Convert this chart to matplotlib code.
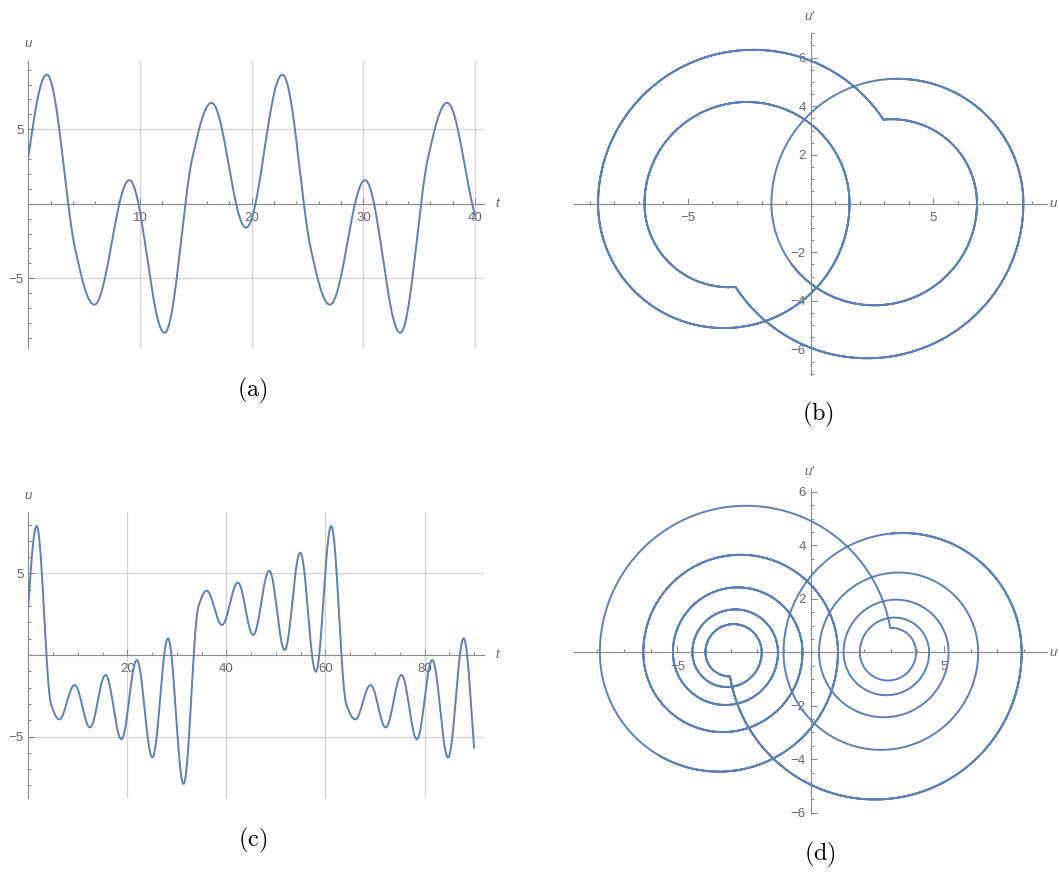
import numpy as np
import matplotlib

matplotlib.use("Agg")
import matplotlib.pyplot as plt  # noqa: E402
from matplotlib.ticker import MultipleLocator  # noqa: E402

W, H = 1059, 873

LINE = "#5e81b5"
AXIS = "#8a8a8a"
GRID = "#d4d4d4"
TEXT = "#666666"
SANS = ["Liberation Sans", "DejaVu Sans"]

# panel (a)/(b): turning points of u (u' = 0)
a_ext_t = [-1.5, 1.65, 5.9, 9.05, 12.2, 16.4, 19.5, 22.75, 27.0, 30.15, 33.3, 37.5, 40.65]
a_ext_u = [-1.6, 8.66, -6.77, 1.58, -8.66, 6.77, -1.6, 8.66, -6.77, 1.58, -8.66, 6.77, -1.6]
# switching corners (u, u')
a_sw_t = [4.2, 14.65, 25.3, 35.75]
a_sw_u = [-3.06, 2.96, -3.06, 2.96]
a_sw_v = [-3.43, 3.45, -3.43, 3.45]

# panel (c)/(d)
c_ext_t = [-1.5, 1.68, 6.25, 9.35, 12.45, 15.6, 18.8, 21.9, 25.05, 28.2, 31.35,
           36.0, 39.1, 42.3, 45.4, 48.65, 51.75, 54.9, 58.05, 61.15,
           66.0, 69.1, 72.15, 75.35, 78.45, 81.55, 84.75, 87.9, 91.05]
c_ext_u = [-1.02, 7.91, -3.95, -1.84, -4.44, -1.23, -5.17, -0.31, -6.28, 1.02, -7.91,
           3.95, 1.84, 4.44, 1.23, 5.17, 0.31, 6.28, -1.02, 7.91,
           -3.95, -1.84, -4.44, -1.23, -5.17, -0.31, -6.28, 1.02, -7.91]
c_sw_t = [4.6, 34.35, 64.2]
c_sw_u = [-3.03, 2.98, -3.03]
c_sw_v = [-0.90, 0.91, -0.90]

A_T_END = 40.0
C_T_END = 90.0


def build_path(ext_t, ext_u, sw_t, sw_u, sw_v, t_end, n=240):
    nodes = sorted(
        [(t, u, 0.0) for t, u in zip(ext_t, ext_u)]
        + [(t, u, v) for t, u, v in zip(sw_t, sw_u, sw_v)]
    )
    ts, us, vs = [], [], []
    for (t0, u0, v0), (t1, u1, v1) in zip(nodes[:-1], nodes[1:]):
        lo = max(0.0, (0.0 - t0) / (t1 - t0))
        hi = min(1.0, (t_end - t0) / (t1 - t0))
        if lo >= hi:
            continue
        # arc of a circle centred on the u axis through both nodes
        c = (u0**2 + v0**2 - u1**2 - v1**2) / (2 * (u0 - u1))
        r = np.hypot(u0 - c, v0)
        th0 = np.arctan2(v0, u0 - c)
        th1 = np.arctan2(v1, u1 - c)
        while th1 >= th0:
            th1 -= 2 * np.pi
        s = np.linspace(lo, hi, n)
        th = th0 + (th1 - th0) * s
        ts.append(t0 + (t1 - t0) * s)
        us.append(c + r * np.cos(th))
        vs.append(r * np.sin(th))
    return np.concatenate(ts), np.concatenate(us), np.concatenate(vs)


def add_axes_px(fig, left, top, right, bottom):
    return fig.add_axes([left / W, 1 - bottom / H, (right - left) / W, (bottom - top) / H])


def style_axes(ax, xlim, ylim, xmajor, ymajor, xminor, yminor, grid):
    ax.set_xlim(xlim)
    ax.set_ylim(ylim)
    ax.patch.set_visible(False)
    for side in ("top", "right"):
        ax.spines[side].set_visible(False)
    for side in ("left", "bottom"):
        ax.spines[side].set_position(("data", 0))
        ax.spines[side].set_color(AXIS)
        ax.spines[side].set_linewidth(0.8)
    ax.set_xticks(xmajor)
    ax.set_yticks(ymajor)
    ax.xaxis.set_minor_locator(MultipleLocator(xminor))
    ax.yaxis.set_minor_locator(MultipleLocator(yminor))
    ax.tick_params(which="both", direction="in", color=AXIS, labelcolor=TEXT,
                   labelsize=9.5, width=0.8)
    ax.tick_params(which="major", length=4.5)
    ax.tick_params(which="minor", length=2.5)
    ax.tick_params(axis="x", pad=6.0)
    ax.tick_params(axis="y", pad=3.5)
    for lab in ax.get_xticklabels() + ax.get_yticklabels():
        lab.set_family(SANS)
    if grid:
        ax.grid(True, which="major", color=GRID, linewidth=0.9)
    ax.set_axisbelow(True)


def label_px(fig, x, y, s, **kw):
    fig.text(x / W, 1 - y / H, s, **kw)


plt.rcParams["mathtext.fontset"] = "cm"
fig = plt.figure(figsize=(W / 100, H / 100), dpi=100)

ta, ua, va = build_path(a_ext_t, a_ext_u, a_sw_t, a_sw_u, a_sw_v, A_T_END)
tc, uc, vc = build_path(c_ext_t, c_ext_u, c_sw_t, c_sw_u, c_sw_v, C_T_END)

# (a) u(t)
ax = add_axes_px(fig, 28.3, 60.7, 484, 348)
style_axes(ax, (0, 40.8), (-9.68, 9.6), [10, 20, 30, 40], [-5, 5], 2, 1, True)
ax.plot(ta, ua, color=LINE, lw=1.4, zorder=3)

# (b) phase portrait
ax = add_axes_px(fig, 574, 33.3, 1046.7, 375)
style_axes(ax, (-9.64, 9.61), (-7.05, 7.0), [-5, 5], [-6, -4, -2, 2, 4, 6], 1, 0.5, False)
ax.plot(ua, va, color=LINE, lw=1.4, zorder=3)

# (c) u(t)
ax = add_axes_px(fig, 28.3, 511.7, 484, 798.3)
style_axes(ax, (0, 92.0), (-8.79, 8.79), [20, 40, 60, 80], [-5, 5], 5, 1, True)
ax.plot(tc, uc, color=LINE, lw=1.4, zorder=3)

# (d) phase portrait
ax = add_axes_px(fig, 574, 489.3, 1046.7, 814)
style_axes(ax, (-8.88, 8.85), (-6.05, 6.1), [-5, 5], [-6, -4, -2, 2, 4, 6], 1, 0.5, False)
ax.plot(uc, vc, color=LINE, lw=1.4, zorder=3)

lab = dict(color=TEXT, fontsize=9.5, family=SANS, style="italic", ha="center", va="center")
label_px(fig, 28, 44, "u", **lab)
label_px(fig, 497, 204, "t", **lab)
label_px(fig, 28, 496, "u", **lab)
label_px(fig, 497, 655, "t", **lab)
label_px(fig, 809, 17, "u\u2032", **lab)
label_px(fig, 809, 472, "u\u2032", **lab)
label_px(fig, 1053, 204, "u", **lab)
label_px(fig, 1053, 653, "u", **lab)

cap = dict(fontsize=17.5, ha="center", va="center", color="black")
label_px(fig, 252.5, 390, r"$\mathrm{(a)}$", **cap)
label_px(fig, 818, 414.5, r"$\mathrm{(b)}$", **cap)
label_px(fig, 252.5, 840, r"$\mathrm{(c)}$", **cap)
label_px(fig, 820, 854, r"$\mathrm{(d)}$", **cap)

fig.savefig("out.png", dpi=100)
